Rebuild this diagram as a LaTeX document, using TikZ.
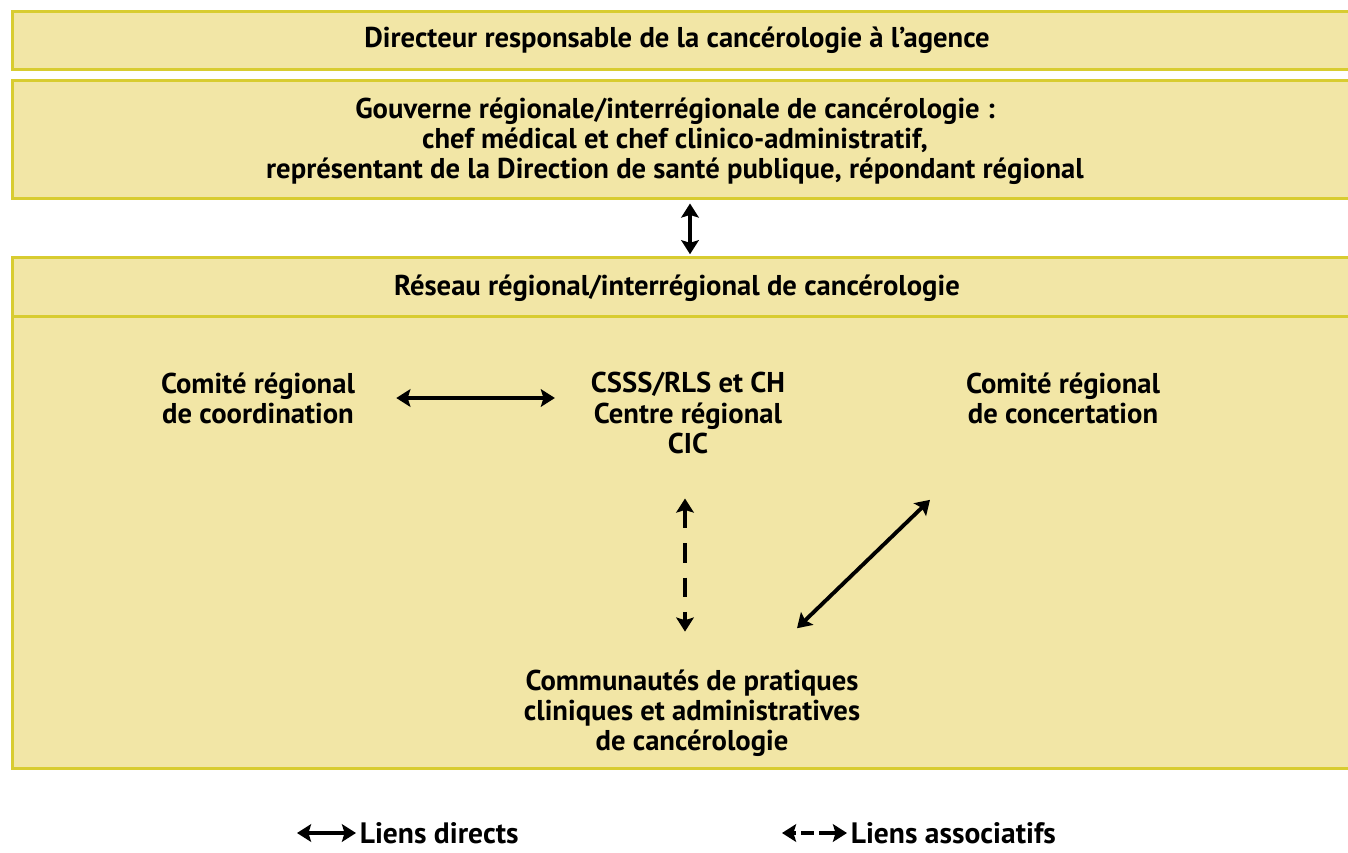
\documentclass[tikz,border=0pt]{standalone}
\usepackage{fontspec}
\setmainfont{PT Sans}
\usepackage{tikz}
\usetikzlibrary{arrows.meta,positioning}
\definecolor{bandfill}{RGB}{242,230,166}
\definecolor{bandline}{RGB}{216,204,48}

\begin{document}
\begin{tikzpicture}[x=0.02cm, y=-0.02cm,
	band/.style={rectangle, draw=bandline, fill=bandfill, line width=1.7pt, minimum width=27.2cm, inner sep=0pt},
	lbl/.style={align=center, font=\bfseries\fontsize{16.3}{17.2}\selectfont},
	leg/.style={anchor=west, inner sep=2pt, font=\bfseries\fontsize{16.8}{17.2}\selectfont},
	link/.style={{Stealth[length=8pt,width=10pt,inset=1.5pt]}-{Stealth[length=8pt,width=10pt,inset=1.5pt]}, line width=2.2pt},
	assoc/.style={link, dash pattern=on 11pt off 8.5pt}]
					\clip (0,0) rectangle (1348,852);
					% bandes
					\node (dir) at (692,40.5) [band, minimum height=1.16cm] {};
					\node (gouv) at (692,139.5) [band, minimum height=2.36cm] {};
					\node (reseau) at (692,513.25) [band, minimum height=10.23cm] {};
					\node (reshead) at (692,287) [band, minimum height=1.18cm] {};
					\node (dirtxt) at (677,40) [lbl] {Directeur responsable de la cancérologie à l'agence};
					\node (gouvtxt) at (675,141) [lbl] {Gouverne régionale/interrégionale de cancérologie :\\chef médical et chef clinico-administratif,\\représentant de la Direction de santé publique, répondant régional};
					\node (restxt) at (677,288) [lbl] {Réseau régional/interrégional de cancérologie};
					% contenu du réseau
					\node (coord) at (258,398) [lbl] {Comité régional\\de coordination};
					\node (csss) at (688,413) [lbl] {CSSS/RLS et CH\\Centre régional\\CIC};
					\node (concert) at (1063,398) [lbl] {Comité régional\\de concertation};
					\node (comm) at (692,713) [lbl] {Communautés de pratiques\\cliniques et administratives\\de cancérologie};
					\draw[link, shorten <=2pt, shorten >=1pt] ([xshift=-0.04cm]gouv.south) -- ([xshift=-0.04cm]reshead.north);
					\draw[link, shorten <=20pt, shorten >=17pt] (coord.east) -- (coord.east -| csss.west);
					\draw[assoc, shorten <=22pt, shorten >=18pt] ([xshift=-0.06cm]csss.south) -- ([xshift=-0.06cm]csss.south |- comm.north);
					\draw[link] ([shift={(105,-35)}]comm.north) -- ([shift={(-133,70)}]concert.south);
					% légende
					\node (directs) at (356,833) [leg] {Liens directs};
					\node (assocs) at (847,833) [leg] {Liens associatifs};
					\coordinate (dirstart) at (297,833);
					\coordinate (assstart) at (782,833);
					\draw[link] (dirstart) -- (directs.west);
					\draw[link, dash pattern=on 2pt off 3pt on 7pt off 3pt on 20pt] (assstart) -- (assocs.west);
				\end{tikzpicture}
\end{document}
